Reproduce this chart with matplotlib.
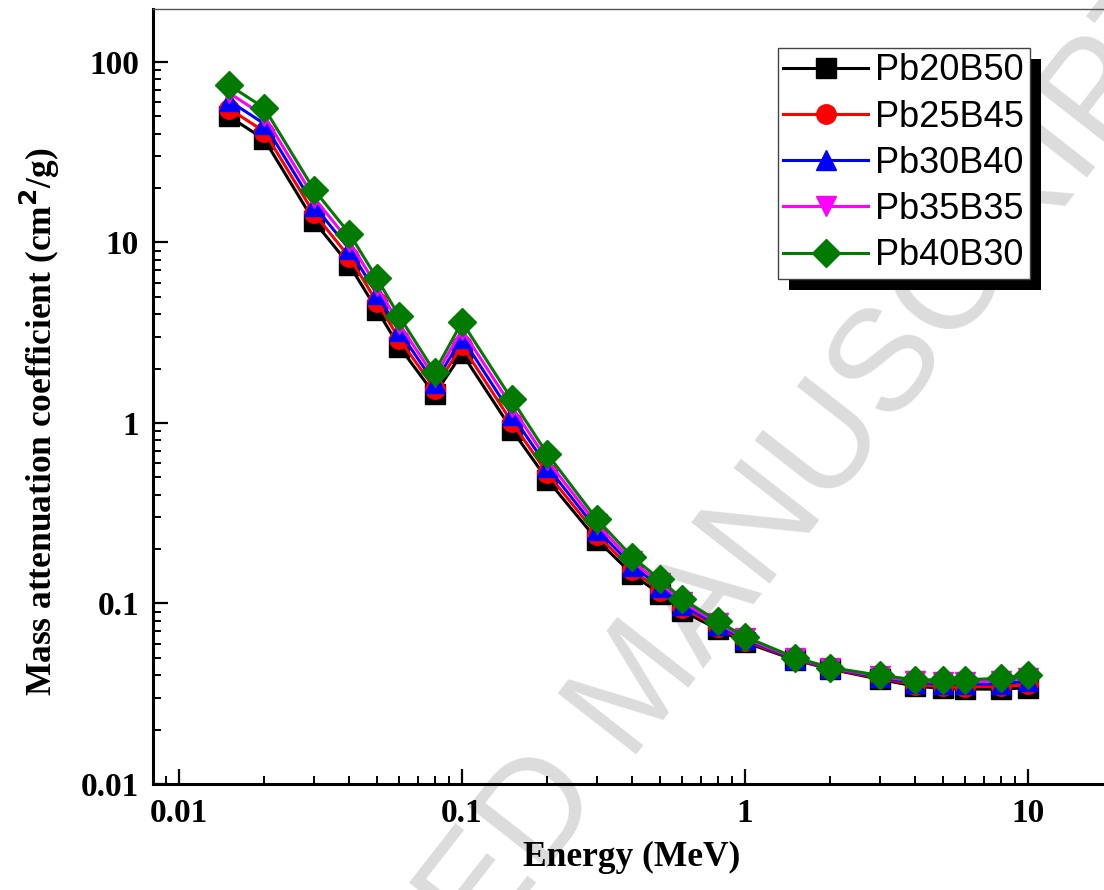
import numpy as np
import matplotlib
matplotlib.use('Agg')
import matplotlib.pyplot as plt
from matplotlib.patches import Rectangle
from matplotlib.ticker import FixedLocator, FuncFormatter, LogLocator, NullFormatter

## photon energies (MeV)
energy = [0.015, 0.02, 0.03, 0.04, 0.05, 0.06, 0.08, 0.1, 0.15, 0.2, 0.3, 0.4,
          0.5, 0.6, 0.8, 1, 1.5, 2, 3, 4, 5, 6, 8, 10]

## mass attenuation coefficients (cm2/g)
pb20b50 = [50.0, 37.3, 13.1, 7.50, 4.24, 2.65, 1.44, 2.43, 0.918, 0.486, 0.225, 0.145,
           0.113, 0.0912, 0.0720, 0.0609, 0.0487, 0.0433, 0.0380, 0.0348, 0.0339, 0.0336, 0.0335, 0.0342]
pb25b45 = [55.2, 41.2, 14.5, 8.29, 4.69, 2.92, 1.55, 2.69, 1.01, 0.528, 0.240, 0.153,
           0.118, 0.0947, 0.0739, 0.0620, 0.0491, 0.0435, 0.0385, 0.0355, 0.0348, 0.0346, 0.0347, 0.0356]
pb30b40 = [61.1, 45.5, 16.0, 9.17, 5.18, 3.22, 1.66, 2.97, 1.11, 0.573, 0.256, 0.162,
           0.124, 0.0983, 0.0759, 0.0632, 0.0494, 0.0438, 0.0390, 0.0363, 0.0358, 0.0357, 0.0359, 0.0371]
pb35b35 = [67.5, 50.3, 17.7, 10.1, 5.73, 3.54, 1.79, 3.28, 1.23, 0.622, 0.274, 0.171,
           0.130, 0.102, 0.0779, 0.0643, 0.0498, 0.0440, 0.0395, 0.0370, 0.0367, 0.0367, 0.0372, 0.0386]
pb40b30 = [74.6, 55.6, 19.6, 11.2, 6.33, 3.90, 1.92, 3.63, 1.35, 0.675, 0.292, 0.181,
           0.136, 0.106, 0.080, 0.0655, 0.0502, 0.0442, 0.0400, 0.0378, 0.0377, 0.0378, 0.0385, 0.0402]

labels = ['Pb20B50', 'Pb25B45', 'Pb30B40', 'Pb35B35', 'Pb40B30']
colors = ['black', '#ff0000', '#0000ff', '#ff00ff', '#007a00']
markers = ['s', 'o', '^', 'v', 'D']

xticks = [0.01, 0.1, 1, 10]
yticks = [0.01, 0.1, 1, 10, 100]

serif = ['Liberation Serif', 'DejaVu Serif']
sans = ['Liberation Sans', 'DejaVu Sans']


def main():
	W, H = 1104, 890
	fig = plt.figure(figsize=(W / 100, H / 100), dpi=100)
	ax = fig.add_axes([153 / W, 1 - 784 / H, (W - 153) / W, 775 / H])

	series = [pb20b50, pb25b45, pb30b40, pb35b35, pb40b30]
	for vals, lab, c, m in zip(series, labels, colors, markers):
		ax.plot(energy, vals, color=c, marker=m, ms=14, mec=c, mfc=c,
		        lw=2.2, label=lab)

	ax.set_xscale('log')
	ax.set_yscale('log')
	ax.set_xlim(0.00809, 18.56)
	ax.set_ylim(0.01, 196.6)

	fmt = FuncFormatter(lambda v, p: '{:g}'.format(v))
	ax.xaxis.set_major_locator(FixedLocator(xticks))
	ax.yaxis.set_major_locator(FixedLocator(yticks))
	ax.xaxis.set_major_formatter(fmt)
	ax.yaxis.set_major_formatter(fmt)
	for a in (ax.xaxis, ax.yaxis):
		a.set_minor_locator(LogLocator(base=10, subs=np.arange(2, 10), numticks=20))
		a.set_minor_formatter(NullFormatter())

	ax.tick_params(which='both', direction='in', top=False, right=False, color='black')
	ax.tick_params(which='major', length=11, width=1.6, pad=10)
	ax.tick_params(which='minor', length=6, width=1.4)
	for t in ax.get_xticklabels() + ax.get_yticklabels():
		t.set_fontfamily(serif)
		t.set_fontweight('bold')
		t.set_fontsize(24)

	ax.spines['left'].set_linewidth(2.2)
	ax.spines['bottom'].set_linewidth(2.2)
	ax.spines['top'].set_linewidth(1.0)
	ax.spines['top'].set_color('#555555')
	ax.spines['right'].set_visible(False)

	fig.text(632 / W, 1 - 857 / H, 'Energy (MeV)', ha='center', va='center',
	         fontsize=25.5, fontweight='bold', family=serif)
	fig.text(40 / W, 1 - 422 / H, 'Mass attenuation coefficient (cm$^{\\mathbf{2}}$/g)',
	         ha='center', va='center', rotation=90, fontsize=25.5, fontweight='bold',
	         family=serif)

	## watermark, behind the data
	ax.text(640 / W, 1 - 690 / H, 'ACCEPTED MANUSCRIPT', ha='center', va='center',
	        rotation=52, rotation_mode='anchor', fontsize=104, color='#dcdcdc',
	        family=sans, zorder=0.5, transform=fig.transFigure, clip_on=False)

	leg = ax.legend(loc='upper left', bbox_to_anchor=(778 / W, 1 - 48 / H),
	                bbox_transform=fig.transFigure, prop={'family': sans, 'size': 26},
	                frameon=True, fancybox=False, framealpha=1, edgecolor='#444444',
	                handlelength=2.35, handletextpad=0.2, borderpad=0.15,
	                labelspacing=0.31, borderaxespad=0)
	leg.get_frame().set_linewidth(1.0)
	leg.set_zorder(6)

	fig.canvas.draw()
	bb = leg.get_window_extent()
	shadow = Rectangle(((bb.x0 + 11) / W, (bb.y0 - 11) / H), bb.width / W, bb.height / H,
	                   transform=fig.transFigure, facecolor='black', edgecolor='none',
	                   zorder=5.5, clip_on=False)
	ax.add_artist(shadow)

	fig.savefig('out.png', dpi=100)


if __name__ == "__main__":
	main()
